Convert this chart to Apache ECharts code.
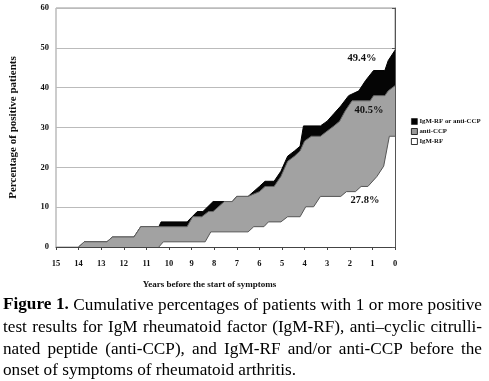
<!DOCTYPE html>
<html><head><meta charset="utf-8">
<script src="https://cdn.jsdelivr.net/npm/echarts@6/dist/echarts.min.js"></script>
<style>html,body{margin:0;padding:0;background:#fff}#c{width:489px;height:381px}</style>
</head><body><div id="c"></div>
<script>
// x = years before start of symptoms, y = cumulative % positive
const eitherData = [[14.0,0],[13.75,1.3],[12.75,1.3],[12.5,2.5],[11.55,2.5],[11.25,5.1],[10.45,5.1],[10.35,6.3],[9.2,6.3],[8.75,8.9],[8.5,8.9],[8.05,11.4],[7.55,11.4],[7.2,11.4],[7.0,12.7],[6.5,12.7],[6.0,15.2],[5.75,16.5],[5.35,16.5],[5.05,19.0],[4.75,22.8],[4.45,24.1],[4.2,25.3],[4.05,30.4],[3.3,30.4],[3.0,31.6],[2.7,33.5],[2.4,35.4],[2.05,38.0],[1.6,39.2],[1.3,41.8],[0.95,44.3],[0.45,44.3],[0.3,46.8],[0,49.4]];
const antiCCPData = [[14.0,0],[13.75,1.3],[12.75,1.3],[12.5,2.5],[11.55,2.5],[11.25,5.1],[9.2,5.1],[8.95,7.6],[8.55,7.6],[8.25,8.9],[8.05,8.9],[7.55,11.4],[7.2,11.4],[7.0,12.7],[6.5,12.7],[6.0,13.9],[5.75,15.2],[5.35,15.2],[5.05,17.7],[4.75,21.5],[4.45,22.8],[4.2,24.1],[4.0,26.6],[3.7,27.8],[3.3,27.8],[3.0,29.1],[2.7,30.4],[2.45,31.6],[2.2,34.2],[1.9,36.7],[1.1,36.7],[0.95,38.0],[0.45,38.0],[0.3,39.2],[0,40.5]];
const igmRFData = [[10.45,0],[10.25,1.3],[8.4,1.3],[8.15,3.8],[6.5,3.8],[6.25,5.1],[5.8,5.1],[5.6,6.3],[5.05,6.3],[4.75,7.6],[4.2,7.6],[3.95,10.1],[3.6,10.1],[3.3,12.7],[2.4,12.7],[2.15,13.9],[1.75,13.9],[1.5,15.2],[1.2,15.2],[0.8,17.7],[0.5,20.3],[0.25,27.8],[0,27.8]];
const seriesNames = ['IgM-RF or anti-CCP','anti-CCP','IgM-RF'];
const endLabels = ['49.4%','40.5%','27.8%'];
const captionLines = [
  'Figure 1. Cumulative percentages of patients with 1 or more positive',
  'test results for IgM rheumatoid factor (IgM-RF), anti\u2013cyclic citrulli-',
  'nated peptide (anti-CCP), and IgM-RF and/or anti-CCP before the',
  'onset of symptoms of rheumatoid arthritis.'
];

const SERIF = '"Liberation Serif","Times New Roman",serif';
const chart = echarts.init(document.getElementById('c'));

// caption (justified lines)
const capSize = 17.2;
const cv = document.createElement('canvas').getContext('2d');
const graphics = [];
const capLeft = 3, capRight = 482;
const capY = [305, 327, 349, 370];
captionLines.forEach((line, li) => {
  const words = line.split(' ');
  const fonts = words.map((w, wi) => (li === 0 && wi < 2 ? 'bold ' : '') + capSize + 'px ' + SERIF);
  const widths = words.map((w, wi) => { cv.font = fonts[wi]; return cv.measureText(w).width; });
  const total = widths.reduce((a, b) => a + b, 0);
  let gap;
  if (li < captionLines.length - 1) gap = (capRight - capLeft - total) / (words.length - 1);
  else { cv.font = capSize + 'px ' + SERIF; gap = cv.measureText(' ').width; }
  let x = capLeft;
  words.forEach((w, wi) => {
    graphics.push({type:'text', x:x, y:capY[li], z:100, style:{text:w, font:fonts[wi], fill:'#000', verticalAlign:'middle', textAlign:'left'}});
    x += widths[wi] + gap;
  });
});
// value annotations
const annot = [[362, 58], [369, 110], [365, 200]];
endLabels.forEach((t, i) => {
  graphics.push({type:'text', x:annot[i][0], y:annot[i][1], z:100, style:{text:t, font:'bold 10.5px ' + SERIF, fill:'#111', textAlign:'center', verticalAlign:'middle'}});
});

const tickFont = {fontFamily: SERIF, fontWeight: 'bold', fontSize: 8.5, color: '#111'};
chart.setOption({
  animation: false,
  backgroundColor: '#fff',
  grid: {left: 54, right: 94, top: 8, bottom: 134, show: true, borderColor: '#999', borderWidth: 1, backgroundColor: 'transparent'},
  legend: {
    orient: 'vertical', left: 406, top: 113, itemWidth: 6, itemHeight: 6, itemGap: 3,
    textStyle: {fontFamily: SERIF, fontWeight: 'bold', fontSize: 6.8, color: '#111', padding: [0,0,0,-3]},
    data: [
      {name: seriesNames[0], icon: 'rect', itemStyle: {color: '#000', borderColor: '#000', borderWidth: 0.5}},
      {name: seriesNames[1], icon: 'rect', itemStyle: {color: '#999', borderColor: '#000', borderWidth: 0.8}},
      {name: seriesNames[2], icon: 'rect', itemStyle: {color: '#fff', borderColor: '#000', borderWidth: 0.8}}
    ]
  },
  xAxis: {
    type: 'value', min: 0, max: 15, interval: 1, inverse: true,
    name: 'Years before the start of symptoms', nameLocation: 'middle', nameGap: 33,
    nameTextStyle: {fontFamily: SERIF, fontWeight: 'bold', fontSize: 9, color: '#111', padding: [0, 32, 0, 0]},
    axisLine: {lineStyle: {color: '#444', width: 1}},
    axisTick: {show: true, length: 3, lineStyle: {color: '#444'}},
    axisLabel: Object.assign({margin: 12}, tickFont),
    splitLine: {show: false}
  },
  yAxis: {
    type: 'value', min: 0, max: 60, interval: 10,
    name: 'Percentage of positive patients', nameLocation: 'middle', nameGap: 37,
    nameTextStyle: {fontFamily: SERIF, fontWeight: 'bold', fontSize: 11, color: '#111'},
    axisLine: {show: true, lineStyle: {color: '#555', width: 1}},
    axisTick: {show: true, length: 3, lineStyle: {color: '#555'}},
    axisLabel: Object.assign({margin: 7}, tickFont),
    splitLine: {show: true, lineStyle: {color: '#bbb', width: 1}}
  },
  series: [
    {name: seriesNames[0], type: 'line', data: eitherData, symbol: 'none', z: 2,
     lineStyle: {color: '#000', width: 1}, itemStyle: {color: '#000'}, areaStyle: {color: '#050505', opacity: 1}},
    {name: seriesNames[1], type: 'line', data: antiCCPData, symbol: 'none', z: 3,
     lineStyle: {color: '#666', width: 1}, itemStyle: {color: '#999'}, areaStyle: {color: '#a2a2a2', opacity: 1}},
    {name: seriesNames[2], type: 'line', data: igmRFData, symbol: 'none', z: 4,
     lineStyle: {color: '#555', width: 1}, itemStyle: {color: '#fff'}, areaStyle: {color: '#fff', opacity: 1}}
  ],
  graphic: graphics
});
</script></body></html>
